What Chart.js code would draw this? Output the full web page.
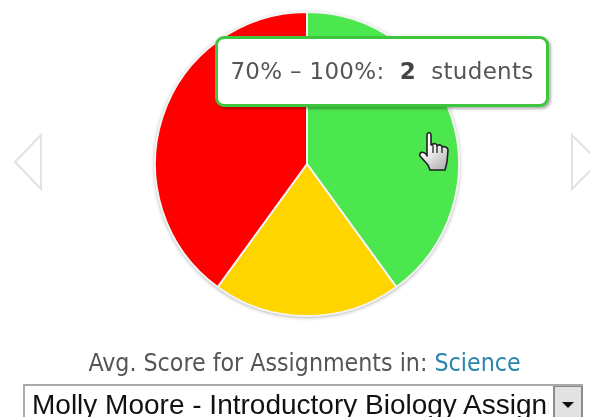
<!DOCTYPE html>
<html>
<head>
<meta charset="utf-8">
<script src="https://cdn.jsdelivr.net/npm/chart.js@4"></script>
<style>
html, body { margin: 0; padding: 0; background: #fff; overflow: hidden; }
#wrap { position: relative; width: 590px; height: 417px; overflow: hidden; filter: blur(.4px); }
#score_pie { position: absolute; left: 137px; top: -6px; }
#tip {
	position: absolute; left: 215px; top: 36px; width: 328px; height: 65px;
	background: #fff; border: 3px solid #3ec73e; border-radius: 9px;
	box-shadow: 2px 2px 3px rgba(0,0,0,.3);
	font: 23px "DejaVu Sans"; color: #555; line-height: 65px; white-space: pre;
	text-align: center; letter-spacing: .3px;
}
#tip b { color: #444; }
.arrow { position: absolute; top: 133px; }
#caption {
	position: absolute; left: 0; top: 348px; width: 609px; text-align: center;
	font: 24.7px "DejaVu Sans Condensed", "DejaVu Sans"; color: #555; white-space: pre;
}
#caption span { color: #2a86ac; }
#picker {
	position: absolute; left: 23px; top: 384px; width: 560px; height: 40px;
	border: 2px solid #a9a9a9; border-right: 0; background: #fff; box-sizing: border-box;
	font: 28px "Liberation Sans"; color: #111; line-height: 37px; padding-left: 7px;
	white-space: nowrap; overflow: hidden;
}
#picker span { display: block; width: 517px; overflow: hidden; }
#drop {
	position: absolute; right: 0; top: -1px; width: 30px; height: 42px;
	background: #e2e2e2; border: 2px solid #8a8a8a; box-sizing: border-box;
}
#drop:after {
	content: ""; position: absolute; left: 7px; top: 15px;
	border: 6px solid transparent; border-top: 6px solid #111; border-bottom: 0;
}
#hand { position: absolute; left: 419px; top: 132px; }
</style>
</head>
<body>
<div id="wrap">
	<canvas id="score_pie" width="340" height="340"></canvas>
	<svg class="arrow" style="left:12px" width="32" height="60"><path d="M29 2 L3 29 L29 56 Z" fill="#fff" stroke="#e2e2e2" stroke-width="2"/></svg>
	<svg class="arrow" style="left:570px" width="20" height="60"><path d="M2 2 L29 29 L2 56 Z" fill="#fff" stroke="#e2e2e2" stroke-width="2"/></svg>
	<div id="tip"></div>
	<svg id="hand" width="32" height="42" viewBox="0 0 32 42">
		<defs><linearGradient id="g" x1="0" y1="0" x2="0.6" y2="1"><stop offset="0.4" stop-color="#fff"/><stop offset="1" stop-color="#bbb"/></linearGradient></defs>
		<path d="M8 3 C8 0 12 0 12 3 L12 13 L14 12 C16 11 18 12 18 14 C20 12 23 13 23 15 C25 14 29 15 29 18 L28 30 L26 38 L11 38 L9 33 L1 24 C0 20 4 19 7 22 L8 24 Z" fill="url(#g)" stroke="#222" stroke-width="1.6" stroke-linejoin="round"/>
		<path d="M14 13 L14 21 M18 14 L18 21 M23 15 L23 21" stroke="#222" stroke-width="1.3" fill="none"/>
	</svg>
	<div id="caption"></div>
	<div id="picker"></div>
</div>
<script>
var ranges = ["70% – 100%", "50% – 69%", "0% – 49%"];
var students = [2, 1, 2];
var colors = ["#4ce64f", "#ffd500", "#ff0000"];
var caption = "Avg. Score for Assignments in: ";
var subject = "Science";
var assignment = "Molly Moore - Introductory Biology Assignment";

// grey rim round the whole pie
var rim = {
	id: "rim",
	beforeDatasetsDraw: function(chart){
		var arc = chart.getDatasetMeta(0).data[0];
		var c = chart.ctx;
		c.save();
		c.beginPath();
		c.arc(arc.x, arc.y, arc.outerRadius, 0, Math.PI * 2);
		c.fillStyle = "#fff";
		c.shadowColor = "rgba(0,0,0,.45)";
		c.shadowBlur = 4;
		c.shadowOffsetY = 1;
		c.fill();
		c.restore();
	}
};

new Chart(document.getElementById("score_pie"), {
	type: "pie",
	plugins: [rim],
	data: {
		labels: ranges,
		datasets: [{
			data: students,
			backgroundColor: colors,
			borderColor: "#f4f4f4",
			borderWidth: 2,
			radius: 152
		}]
	},
	options: {
		responsive: false,
		animation: false,
		events: [],
		plugins: { legend: { display: false }, tooltip: { enabled: false } }
	}
});

document.getElementById("tip").innerHTML = ranges[0] + ":  <b>" + students[0] + "</b>  students";
document.getElementById("caption").innerHTML = caption + "<span>" + subject + "</span>";
document.getElementById("picker").innerHTML = "<span>" + assignment + '</span><div id="drop"></div>';
</script>
</body>
</html>
